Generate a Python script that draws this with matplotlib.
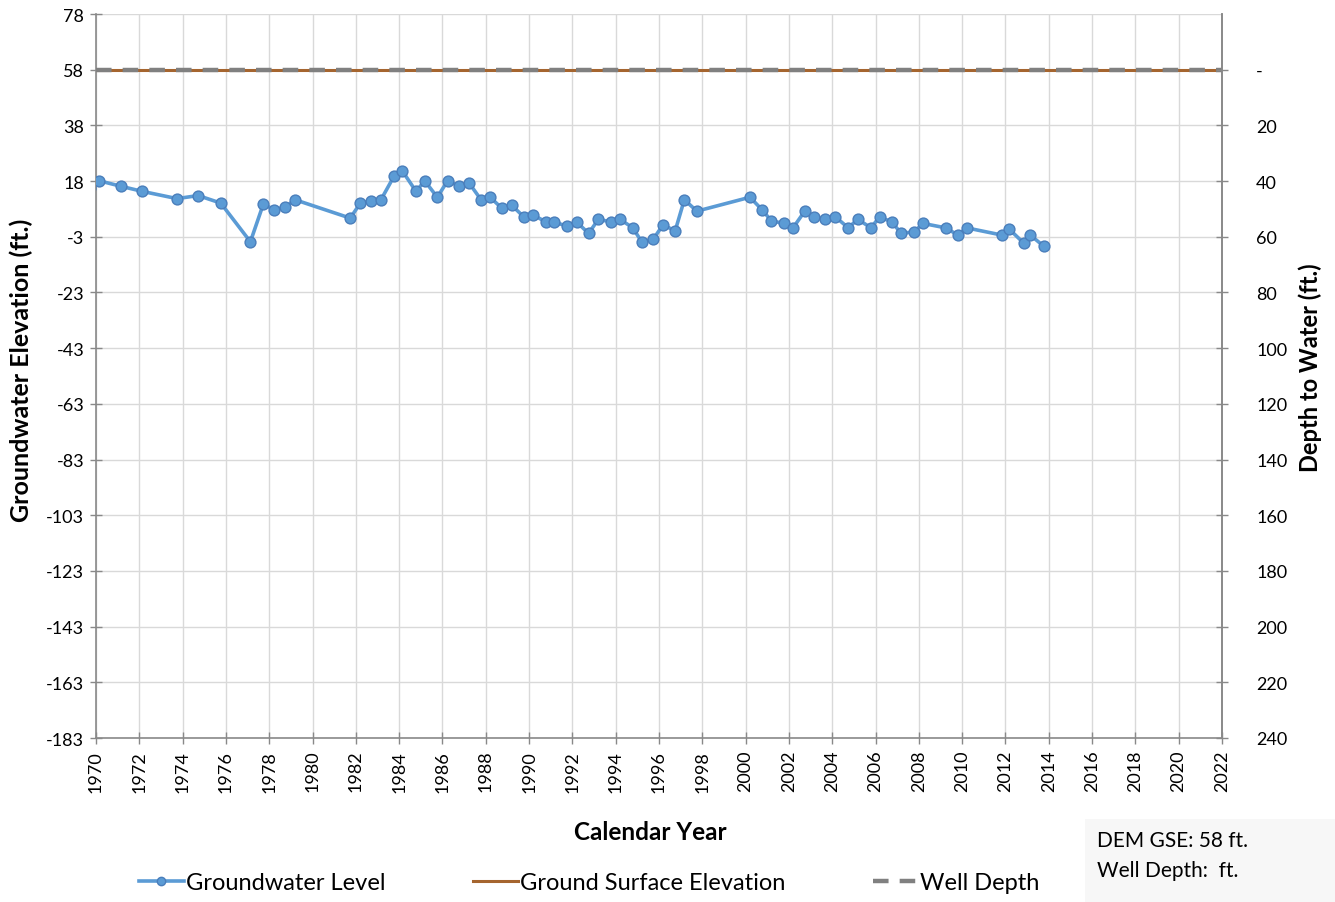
import matplotlib
matplotlib.use("Agg")
import matplotlib.pyplot as plt
from matplotlib.patches import Rectangle
from matplotlib.lines import Line2D

plt.rcParams['font.family'] = ['Lato', 'DejaVu Sans']

# ---- data ----
years = [1969.7, 1970.15, 1971.17, 1972.14, 1973.74, 1974.72, 1975.76, 1977.13, 1977.73, 1978.21,
         1978.73, 1979.19, 1981.74, 1982.21, 1982.70, 1983.16, 1983.76, 1984.15, 1984.78,
         1985.18, 1985.76, 1986.24, 1986.78, 1987.24, 1987.79, 1988.20, 1988.75, 1989.20,
         1989.75, 1990.20, 1990.78, 1991.15, 1991.76, 1992.20, 1992.75, 1993.20, 1993.78,
         1994.20, 1994.79, 1995.20, 1995.74, 1996.18, 1996.75, 1997.17, 1997.75, 2000.20,
         2000.76, 2001.19, 2001.77, 2002.19, 2002.74, 2003.14, 2003.67, 2004.14, 2004.74,
         2005.18, 2005.79, 2006.19, 2006.75, 2007.19, 2007.79, 2008.19, 2009.24, 2009.81,
         2010.21, 2011.84, 2012.18, 2012.86, 2013.15, 2013.77]
gw_level = [15.0, 17.6, 15.6, 13.8, 11.2, 12.3, 9.6, -4.3, 9.3, 7.2,
            8.1, 10.8, 4.2, 9.6, 10.2, 10.8, 19.2, 21.1, 13.8,
            17.6, 11.7, 17.6, 15.7, 16.7, 10.7, 11.7, 7.7, 8.8,
            4.7, 5.3, 2.8, 2.8, 1.3, 2.8, -1.3, 3.8, 2.8,
            3.8, 0.7, -4.3, -3.3, 1.7, -0.3, 10.8, 6.7, 11.7,
            7.2, 3.2, 2.3, 0.7, 6.8, 4.6, 3.8, 4.7, 0.7,
            3.8, 0.7, 4.7, 2.8, -1.3, -0.7, 2.3, 0.7, -1.9,
            0.7, -1.9, 0.2, -4.9, -1.9, -5.9]
gse = 57.5
well_depth = 57.5
x_ticks = list(range(1970, 2023, 2))
left_ticks = [77.5 - 20 * i for i in range(14)]
left_labels = ['78', '58', '38', '18', '-3', '-23', '-43', '-63', '-83', '-103', '-123', '-143', '-163', '-183']
right_ticks = [0, 20, 40, 60, 80, 100, 120, 140, 160, 180, 200, 220, 240]
right_labels = ['-'] + [str(v) for v in right_ticks[1:]]

# ---- figure ----
fig = plt.figure(figsize=(13.35, 9.03), dpi=100)
ax = fig.add_axes([96/1335, 1 - 739/903, (1222-96)/1335, (739-15)/903])

xmin, xmax = 1970, 2022
ymin, ymax = -182.5, 77.5

ax.plot([xmin, xmax], [gse, gse], color='#A5652F', lw=2.2, zorder=3, solid_capstyle='butt')
ax.plot([xmin, xmax], [well_depth, well_depth], color='#808080', lw=3.2, ls=(0, (3.5, 2.5)), zorder=4)
ax.plot(years, gw_level, color='#5B9BD5', lw=2.6, marker='o', ms=7.8,
        mfc='#5B9BD5', mec='#4A7EBB', mew=1.0, zorder=5)

ax.set_xlim(xmin, xmax)
ax.set_ylim(ymin, ymax)
ax.set_xticks(x_ticks)
ax.set_xticklabels([str(v) for v in x_ticks], rotation=90, fontsize=13)
ax.set_yticks(left_ticks)
ax.set_yticklabels(left_labels, fontsize=13)
ax.grid(True, color='#D9D9D9', lw=1.0, zorder=0)
ax.set_axisbelow(True)

ax.spines['top'].set_visible(False)
for s in ['left', 'bottom', 'right']:
    ax.spines[s].set_color('#898989')
    ax.spines[s].set_linewidth(1.2)
ax.tick_params(axis='both', direction='inout', length=9, width=1.0, color='#898989', pad=4)

ax2 = ax.twinx()
ax2.set_ylim(gse - ymin, gse - ymax)
ax2.set_yticks(right_ticks)
ax2.set_yticklabels(right_labels, fontsize=13)
ax2.tick_params(axis='y', direction='inout', length=9, width=1.0, color='#898989', pad=20)
for s in ['top', 'left', 'bottom']:
    ax2.spines[s].set_visible(False)
ax2.spines['right'].set_color('#898989')
ax2.spines['right'].set_linewidth(1.2)

ax.set_xlabel('Calendar Year', fontsize=17.5, fontweight='bold', va='top')
ax.xaxis.set_label_coords((650 - 96) / 1126, -(821 - 739) / 724)
ax.set_ylabel('Groundwater Elevation (ft.)', fontsize=18, fontweight='bold',
              rotation=90, va='center', ha='center')
ax.yaxis.set_label_coords(-(96 - 21) / 1126, (739 - 370) / 724)
ax2.set_ylabel('Depth to Water (ft.)', fontsize=17, fontweight='bold',
               rotation=90, va='center', ha='center')
ax2.yaxis.set_label_coords((1310 - 96) / 1126, (739 - 368) / 724)

handles = [
    Line2D([], [], color='#5B9BD5', lw=2.6, marker='o', ms=6, mfc='#5B9BD5', mec='#4A7EBB'),
    Line2D([], [], color='#A5652F', lw=2.2),
    Line2D([], [], color='#808080', lw=3.2, ls=(0, (3.5, 2.5))),
]
fig.legend(handles, ['Groundwater Level', 'Ground Surface Elevation', 'Well Depth'],
           loc='center', bbox_to_anchor=(589/1335, 1 - 884/903), ncol=3, frameon=False,
           fontsize=17, columnspacing=3.7, handlelength=1.9, handletextpad=0.1)

fig.patches.append(Rectangle((1085/1335, 0), 250/1335, 83/903, transform=fig.transFigure,
                             facecolor='#F7F7F7', edgecolor='none', zorder=0))
fig.text(1097/1335, 1 - 841/903, 'DEM GSE: 58 ft.', fontsize=15, va='center', ha='left')
fig.text(1097/1335, 1 - 871/903, 'Well Depth:  ft.', fontsize=15, va='center', ha='left')

fig.savefig('out.png', dpi=100)
